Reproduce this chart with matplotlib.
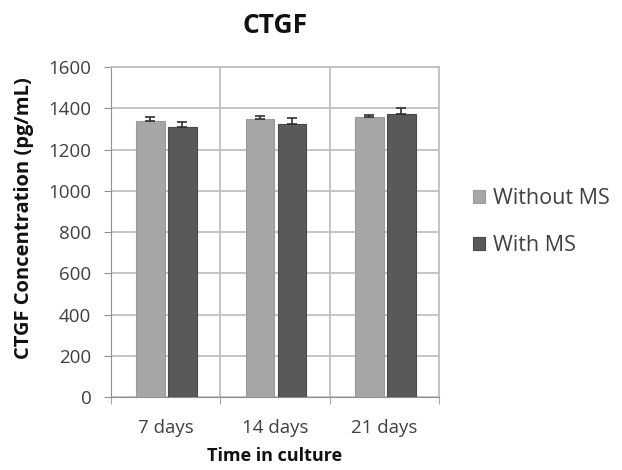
import numpy as np
import matplotlib
matplotlib.use("Agg")
import matplotlib.pyplot as plt

plt.rcParams['font.family'] = ['Open Sans', 'DejaVu Sans']

### data
categories = ['7 days', '14 days', '21 days']
without_ms = [1338, 1348, 1357]
with_ms = [1311, 1327, 1375]
without_err = [20, 16, 12]
with_err = [22, 28, 25]
series_names = ['Without MS', 'With MS']

light = '#a6a6a6'
dark = '#595959'
grid_col = '#c0c0c0'
txt = '#404040'

fig = plt.figure(figsize=(6.22, 4.70), dpi=100)
ax = fig.add_axes([0.178, 0.155, 0.528, 0.702])

x = np.arange(len(categories))
w = 0.26
ekw = dict(ecolor='#303030', capsize=3.5, elinewidth=1.2, capthick=1.2)
# plus-only error bars
ax.bar(x - 0.137, without_ms, w, color=light, edgecolor='#9a9a9a', linewidth=0.8,
       yerr=[[0] * 3, without_err], error_kw=ekw, label=series_names[0], zorder=3)
ax.bar(x + 0.155, with_ms, w, color=dark, edgecolor='#484848', linewidth=0.8,
       yerr=[[0] * 3, with_err], error_kw=ekw, label=series_names[1], zorder=3)

ax.set_xlim(-0.5, len(categories) - 0.5)
ax.set_ylim(0, 1600)
ax.set_yticks(np.arange(0, 1601, 200))
ax.set_xticks(x)
ax.set_xticklabels(categories)
ax.set_xticks(np.arange(-0.5, len(categories), 1), minor=True)

# horizontal gridlines plus vertical separators between categories
ax.grid(axis='y', color=grid_col, linewidth=1.3, zorder=0)
ax.grid(axis='x', which='minor', color=grid_col, linewidth=1.3, zorder=0)
ax.tick_params(axis='x', which='major', length=0, pad=16, labelsize=13.5, labelcolor=txt)
ax.tick_params(axis='x', which='minor', length=5, color='#909090', direction='out')
ax.tick_params(axis='y', length=5, color='#909090', labelsize=13.5, labelcolor=txt, pad=9)

for side in ['top', 'right']:
    ax.spines[side].set_color(grid_col)
    ax.spines[side].set_linewidth(1.3)
ax.spines['left'].set_color('#909090')
ax.spines['bottom'].set_color('#909090')

ax.set_title('CTGF', fontsize=19, fontweight='bold', pad=24.5, color='#111111')
ax.set_ylabel('CTGF Concentration (pg/mL)', fontsize=14.5, fontweight='bold',
              labelpad=10.5, color='#111111')
ax.yaxis.label.set_y(0.542)
ax.set_xlabel('Time in culture', fontsize=13, fontweight='bold', labelpad=7,
              color='#111111')

fig.legend(loc='center left', bbox_to_anchor=(0.729, 0.527), frameon=False,
           fontsize=15.5, handlelength=0.55, handleheight=0.55, labelspacing=1.2,
           handletextpad=0.37, labelcolor=txt)

fig.savefig('out.png', dpi=100)
